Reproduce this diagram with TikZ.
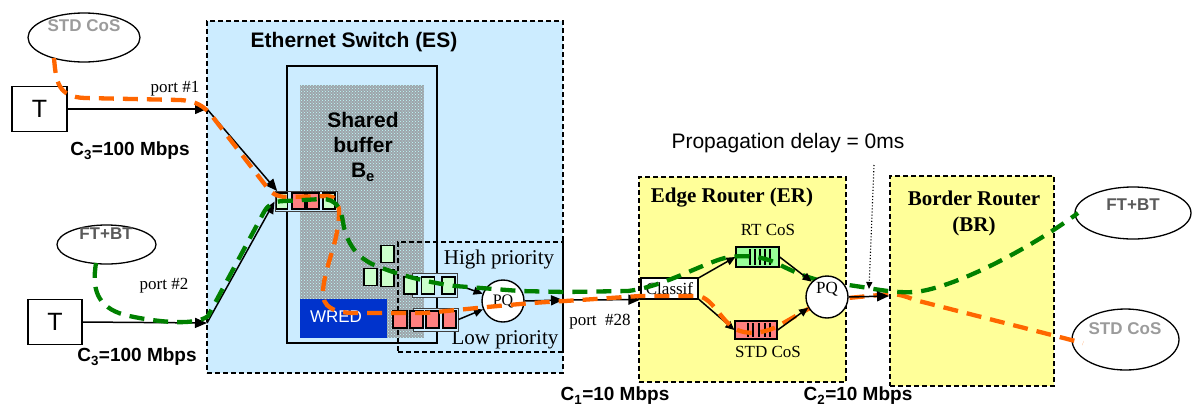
\documentclass[tikz,border=0pt]{standalone}
\usepackage{fontspec}
\setmainfont{Liberation Serif}
\setsansfont{Liberation Sans}
\usetikzlibrary{arrows.meta,patterns,shapes.geometric}
\definecolor{esblue}{RGB}{204,236,255}
\definecolor{ryellow}{RGB}{255,255,153}
\definecolor{wredblue}{RGB}{0,51,204}
\definecolor{lgreen}{RGB}{204,255,204}
\definecolor{lred}{RGB}{255,128,128}
\definecolor{rtgreen}{RGB}{153,255,153}
\definecolor{flowor}{RGB}{255,102,0}
\definecolor{flowgr}{RGB}{0,128,0}
\definecolor{buffgray}{RGB}{158,164,170}
\definecolor{txtgray}{RGB}{155,155,155}
\definecolor{txtdgray}{RGB}{90,90,90}
\newcommand\fsz[2]{\fontsize{#1}{#2}\selectfont}
\begin{document}
\begin{tikzpicture}[x=1pt,y=-1pt,
  dbox/.style={draw, line width=1.3pt, dash pattern=on 5pt off 3pt, inner sep=0pt},
  ell/.style={draw, ellipse, line width=1.3pt, inner sep=0pt},
  tbox/.style={draw, line width=1.5pt, minimum width=55pt, minimum height=45pt, inner sep=0pt, font=\sffamily\fsz{25}{25}},
  qframe/.style={draw=black!75, line width=1pt, fill=esblue, inner sep=0pt},
  gcell/.style={draw, line width=1.4pt, fill=lgreen, minimum width=13pt, minimum height=17pt, inner sep=0pt},
  rcell/.style={draw, line width=1.4pt, fill=lred, minimum width=13pt, minimum height=17pt, inner sep=0pt},
  pqc/.style={circle, draw, fill=white, line width=1.4pt, minimum size=42pt, inner sep=0pt},
  bigarr/.style={line width=1.5pt, -{Triangle[length=12pt,width=10pt]}},
  smarr/.style={line width=1.5pt, -{Triangle[length=9pt,width=8pt]}},
  flowO/.style={draw=flowor, line width=4.3pt, dash pattern=on 15pt off 9pt},
  flowG/.style={draw=flowgr, line width=4.3pt, dash pattern=on 15pt off 9pt},
  sbold/.style={font=\sffamily\bfseries\fsz{19}{19}},
  tms/.style={font=\fsz{17}{17}},
  tmsl/.style={font=\fsz{21}{21}}
]
\useasboundingbox (0,0) rectangle (1192,408);

% ---------------- Ethernet switch ----------------
\node[dbox, fill=esblue, minimum width=356pt, minimum height=352pt] (es) at (385,197) {};
\node[font=\sffamily\bfseries\fsz{21}{21}] (est) at (354,42) {Ethernet Switch (ES)};
\node[draw, line width=1.4pt, minimum width=150pt, minimum height=277pt, inner sep=0pt] (inner) at (362,204.5) {};
\node[fill=buffgray, minimum width=124pt, minimum height=253pt, inner sep=0pt] (buf) at (362,211.5) {};
\fill[pattern=crosshatch dots, pattern color=white!75!cyan] (buf.north west) rectangle (buf.south east);
\node[font=\sffamily\bfseries\fsz{21}{25}, align=center] (sbt) at (363,147) {Shared\\buffer\\B\textsubscript{e}};
\node[fill=wredblue, minimum width=87pt, minimum height=39pt, inner sep=0pt] (wred) at (343.5,318.5) {};
\node[text=white, font=\sffamily\fsz{17}{17}] (wredt) at (336,317) {WRED};
\node[dbox, minimum width=165pt, minimum height=110pt] (pbox) at (480.5,297) {};
\node[tmsl] (hpt) at (499,259) {High priority};
\node[tmsl] (lpt) at (505,340) {Low priority};

% input queue
\node[qframe, minimum width=62pt, minimum height=20pt] (iq) at (306,201.5) {};
\node[gcell, minimum width=11pt, minimum height=16pt] (ic1) at (282,201) {};
\node[rcell, minimum height=16pt] (ic2) at (298.5,201) {};
\node[rcell, minimum width=12pt, minimum height=16pt] (ic3) at (313,201) {};
\node[gcell, minimum width=12pt, minimum height=16pt] (ic4) at (329,201) {};

% floating packets
\node[gcell] (f1) at (387.5,254) {};
\node[gcell] (f2) at (370.5,277) {};
\node[gcell] (f3) at (387.5,278) {};

% high priority queue
\node[qframe, minimum width=45pt, minimum height=24pt] (hq) at (435,285) {};
\node[gcell] (h1) at (410.5,285.5) {};
\node[gcell] (h2) at (428,285.5) {};
\node[gcell] (h3) at (448.5,285.5) {};
% low priority queue
\node[qframe, minimum width=45pt, minimum height=23pt] (lq) at (435.5,319.5) {};
\node[rcell, minimum width=14pt] (l1) at (400,319.5) {};
\node[rcell] (l2) at (416.5,319.5) {};
\node[rcell] (l3) at (432.5,319.5) {};
\node[rcell] (l4) at (449.5,319.5) {};

\node[pqc, font=\fsz{16}{16}] (pq1) at (503,301) {PQ};

% ---------------- left side ----------------
\node[ell, minimum width=112pt, minimum height=49pt] (e1) at (84,37.5) {};
\node[text=txtgray, font=\sffamily\bfseries\fsz{17}{17}] (e1t) at (84,26) {STD CoS};
\node[ell, minimum width=99pt, minimum height=39pt] (e2) at (106.5,244.5) {};
\node[text=txtdgray, font=\sffamily\bfseries\fsz{17}{17}] (e2t) at (106,234) {FT+BT};
\node[tbox] (t1) at (39.5,109) {T};
\node[tbox, minimum width=54pt] (t2) at (55,322) {T};
\coordinate (p1) at (207,109);
\coordinate (p2) at (207,323);
\node[tms] (p1t) at (175,89) {port \#1};
\node[tms] (p2t) at (164,286) {port \#2};
\node[sbold] (c3a) at (130,151) {C\textsubscript{3}=100 Mbps};
\node[sbold] (c3b) at (137,357) {C\textsubscript{3}=100 Mbps};

\draw[bigarr] (t1.east) -- (p1);
\draw[bigarr] (t2.east) -- (p2);
\draw[bigarr] (p1) -- (iq.160);
\draw[bigarr] (p2) -- (iq.west);
\draw[smarr] (hq.east) -- (pq1);
\draw[smarr] (lq.east) -- (pq1);
\coordinate (p28) at (563,300);
\draw[bigarr] (pq1.east) -- (p28);

% ---------------- Edge router ----------------
\node[dbox, fill=ryellow, minimum width=207pt, minimum height=205pt] (er) at (742.5,279.5) {};
\node[font=\bfseries\fsz{21}{21}] (ert) at (732,198) {Edge Router (ER)};
\node[draw, fill=white, line width=1.2pt, minimum width=57pt, minimum height=21pt, inner sep=0pt, font=\fsz{17}{17}] (cls) at (669.5,288.5) {Classif};
\node[draw, fill=rtgreen, line width=1.3pt, minimum width=43pt, minimum height=20pt, inner sep=0pt] (rq) at (757.5,257) {};
\foreach \x in {750,755,760,765,770} \draw[line width=1.3pt] (\x,249) -- (\x,265);
\node[draw, fill=lred, line width=1.3pt, minimum width=42pt, minimum height=18pt, inner sep=0pt] (sq) at (756,330) {};
\foreach \x in {748,753,759,765,770} \draw[line width=1.3pt] (\x,323) -- (\x,337);
\node[tms] (rqt) at (768,230) {RT CoS};
\node[tms] (sqt) at (768,352) {STD CoS};
\node[tms] (p28t) at (600,322) {port \ \#28};
\draw[bigarr] (p28) -- (cls.south west);
\draw[smarr] (cls.20) -- (rq.west);
\draw[smarr] (cls.-20) -- (sq.west);

% ---------------- Border router ----------------
\node[dbox, fill=ryellow, minimum width=164pt, minimum height=210pt] (br) at (972,281) {};
\node[font=\bfseries\fsz{21}{26}, align=center] (brt) at (974,213) {Border Router\\(BR)};
\node[ell, minimum width=116pt, minimum height=52pt] (e3) at (1133,213) {};
\node[text=txtdgray, font=\sffamily\bfseries\fsz{17}{17}] (e3t) at (1133,205) {FT+BT};
\node[ell, minimum width=107pt, minimum height=61pt] (e4) at (1125.5,339.5) {};
\node[text=txtgray, font=\sffamily\bfseries\fsz{17}{17}] (e4t) at (1125,329) {STD CoS};

\node[font=\sffamily\fsz{21}{21}] (prop) at (788,143) {Propagation delay = 0ms};
\node[sbold] (c1) at (615,396) {C\textsubscript{1}=10 Mbps};
\node[sbold] (c2) at (858,396) {C\textsubscript{2}=10 Mbps};

% ---------------- flows ----------------
\draw[flowO] (54,58) .. controls (56,82) and (58,97) .. (85,98)
  -- (180,100) .. controls (196,101) and (204,106) .. (212,116)
  -- (266,186) .. controls (271,193) and (276,197) .. (288,197)
  -- (328,196) .. controls (342,196) and (341,218) .. (334,245)
  .. controls (326,272) and (318,296) .. (327,305)
  .. controls (333,311) and (342,313) .. (356,313)
  -- (425,313) .. controls (460,310) and (520,303) .. (565,301)
  -- (640,296) -- (698,296) .. controls (714,298) and (722,325) .. (740,331)
  .. controls (752,335) and (768,332) .. (780,325) -- (808,309)
  -- (848,298) -- (890,294) .. controls (898,294) and (905,296) .. (915,300)
  -- (1083,343);
\draw[flowG] (96,263) .. controls (92,288) and (96,307) .. (125,315)
  .. controls (150,321) and (195,327) .. (208,316)
  -- (264,212) .. controls (268,205) and (273,201) .. (285,201)
  -- (322,199) .. controls (336,199) and (341,208) .. (343,222)
  .. controls (346,242) and (356,256) .. (372,264)
  .. controls (395,274) and (425,282) .. (455,286)
  -- (520,291) -- (565,292) -- (628,291)
  .. controls (660,287) and (690,270) .. (718,260)
  .. controls (735,254) and (760,255) .. (776,263)
  .. controls (790,270) and (805,277) .. (822,281)
  -- (862,287) .. controls (885,291) and (905,294) .. (922,291)
  .. controls (965,283) and (1035,245) .. (1078,213);

% ER priority queue on top of flows
\node[pqc] (pq2) at (827,297) {};
\node[tms] (pq2t) at (827,289) {PQ};
\draw[smarr] (rq.east) -- (pq2.north west);
\draw[smarr] (sq.east) -- (pq2.210);
\coordinate (brin) at (889,296);
\draw[bigarr] (pq2.east) -- (brin);
\coordinate (dtop) at (874,165);
\coordinate (dbot) at (869,289);
\draw[dotted, line width=1.1pt, -{Triangle[length=7pt,width=6pt]}] (dtop) -- (dbot);
\end{tikzpicture}
\end{document}
